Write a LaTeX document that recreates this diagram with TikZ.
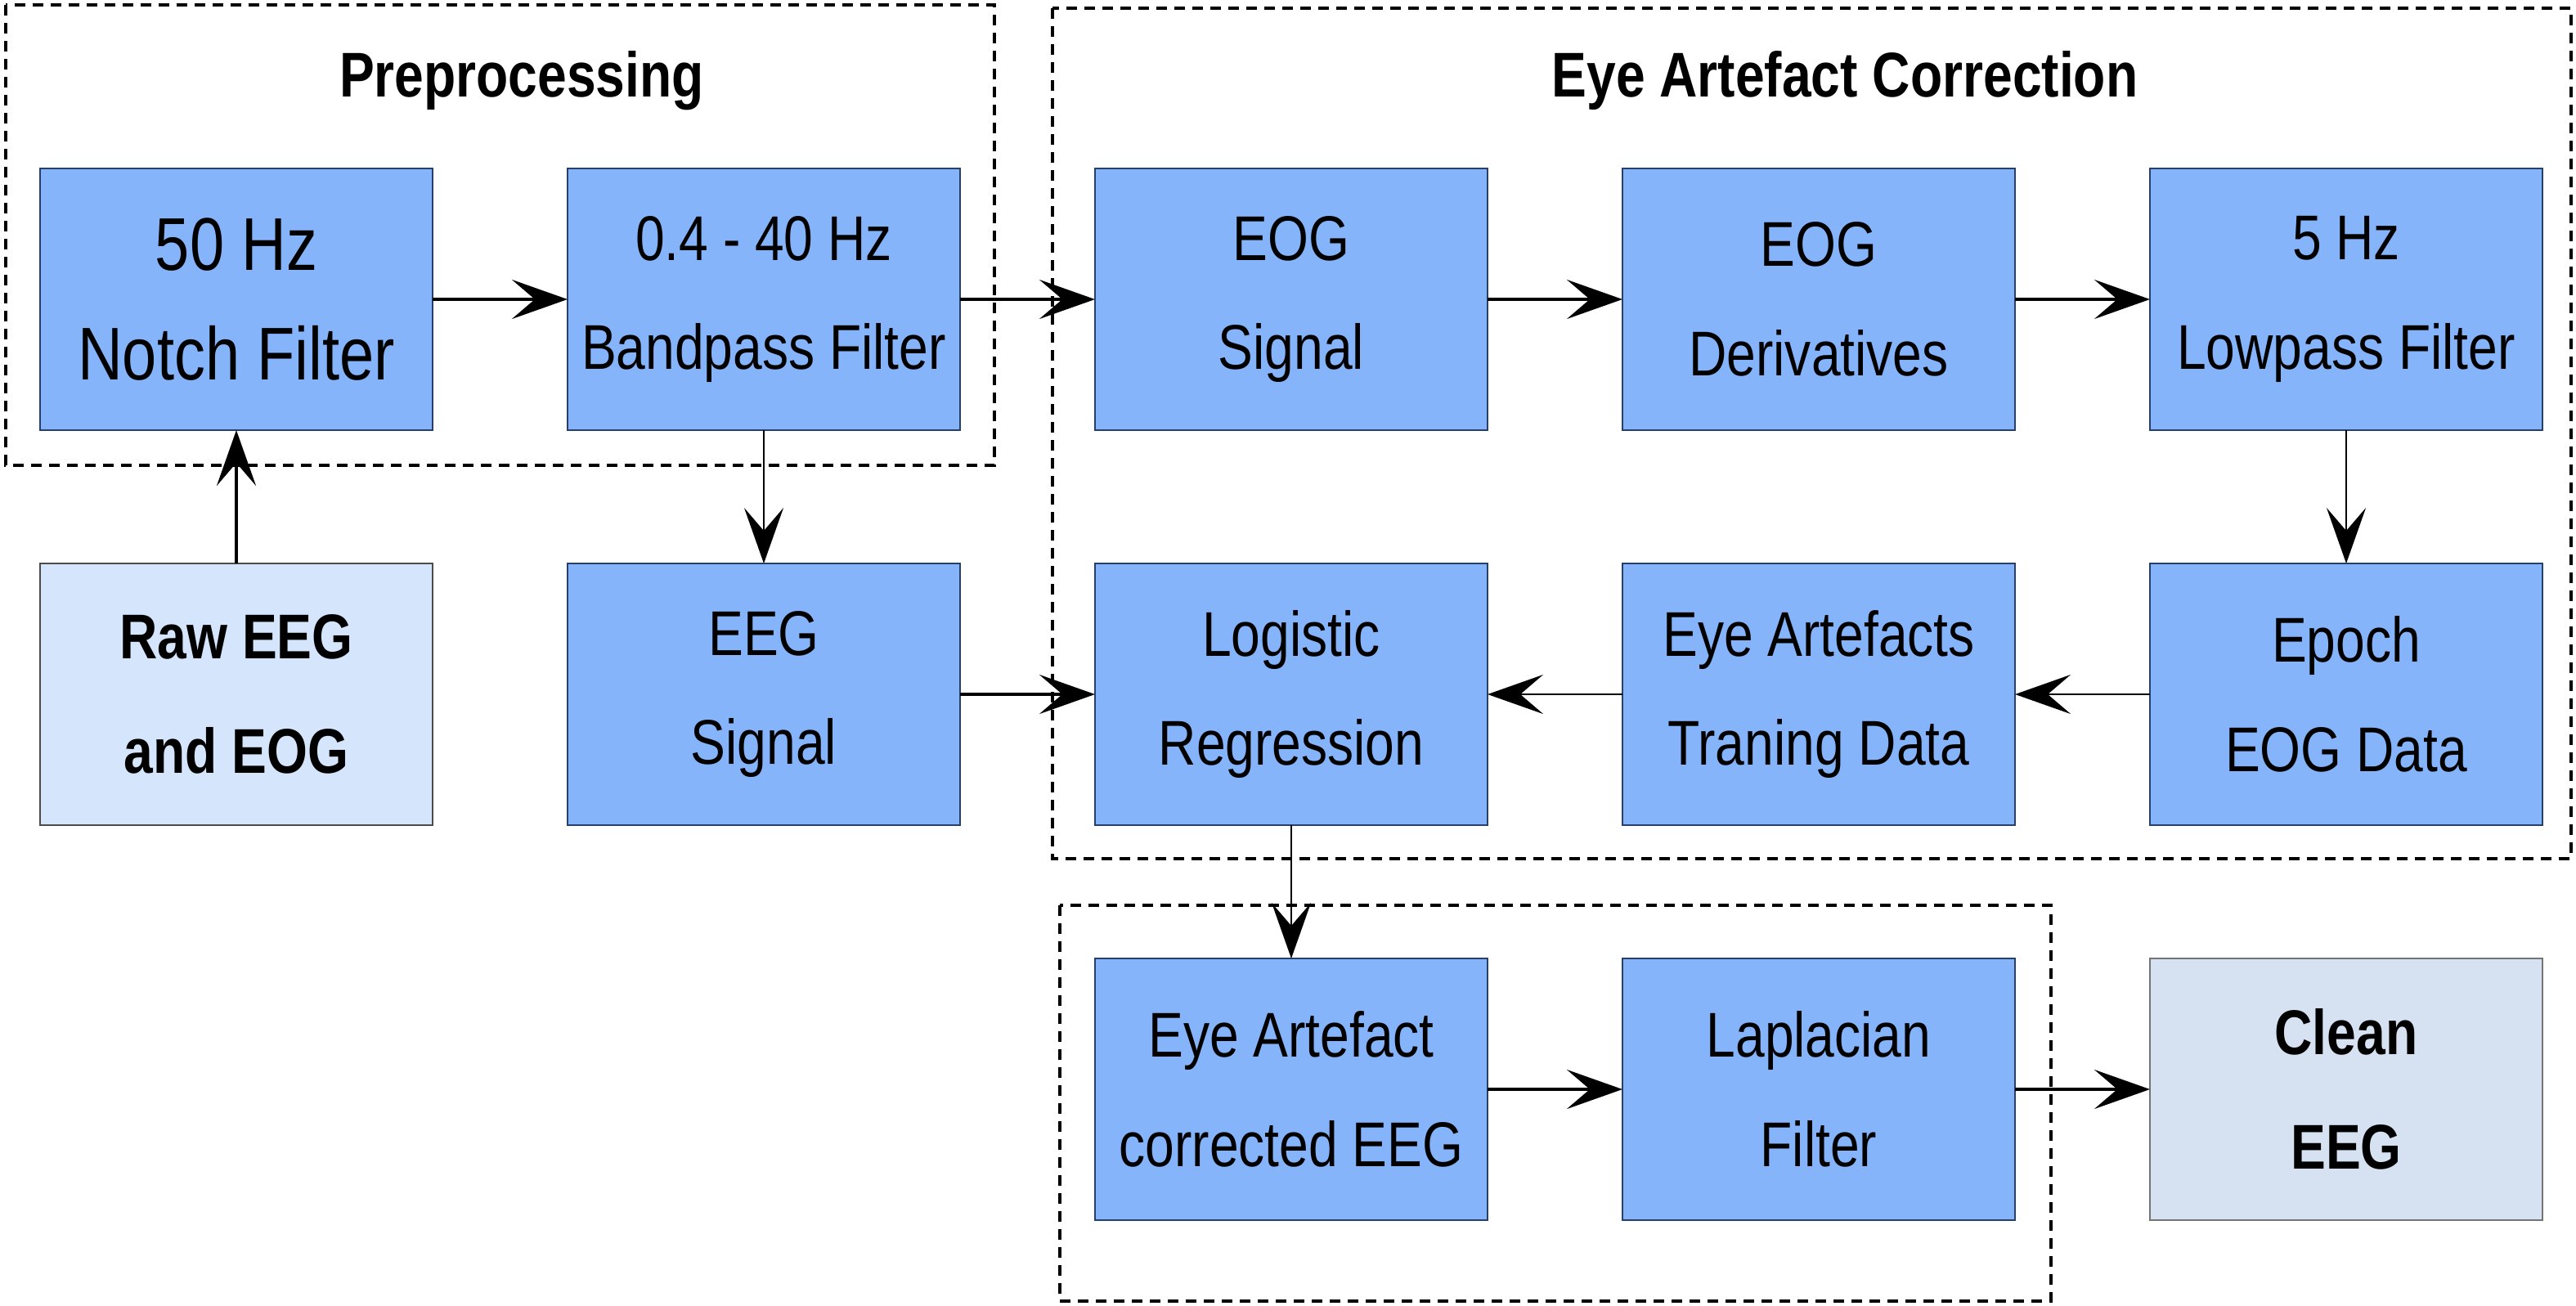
\documentclass[tikz,border=0pt]{standalone}
\usepackage{fontspec}
\usepackage{xcolor}
\usetikzlibrary{arrows.meta, positioning}
\newfontfamily\blkfont[FakeStretch=0.83]{Liberation Sans}
\definecolor{blkfill}{RGB}{134,180,250}
\definecolor{blkline}{RGB}{39,64,107}
\definecolor{rawfill}{RGB}{213,229,251}
\definecolor{cleanfill}{RGB}{214,225,242}

\begin{document}
\begin{tikzpicture}[
    blk/.style={draw=blkline, fill=blkfill, line width=0.8pt, rectangle, minimum width=4.8cm, minimum height=3.2cm,
      inner sep=0pt, outer sep=0pt, align=center, font=\blkfont\fontsize{22}{38}\selectfont},
    inbox/.style={blk, draw=black!70, fill=rawfill, font=\blkfont\bfseries\fontsize{22}{40}\selectfont},
    outbox/.style={blk, draw=black!55, fill=cleanfill, font=\blkfont\bfseries\fontsize{22}{40}\selectfont},
    grouptitle/.style={anchor=base, font=\blkfont\bfseries\fontsize{22}{26}\selectfont},
    groupbox/.style={draw, line width=1.1pt, dash pattern=on 0.13cm off 0.09cm},
    conn/.style={draw, line width=1.2pt, -{Stealth[length=6.8mm, width=4.8mm, inset=2.8mm]}},
    thinconn/.style={conn, line width=0.7pt},
    node distance=1.63cm and 1.65cm
  ]
  \useasboundingbox (0,0) rectangle (31.5,-15.96);

  \node[blk, font=\blkfont\fontsize{26}{38}\selectfont] (notch) at (2.89,-3.66) {50 Hz\\Notch Filter};
  \node[blk, right=of notch] (band) {0.4 - 40 Hz\\Bandpass Filter};
  \node[blk, right=of band] (eog) {EOG\\Signal};
  \node[blk, right=of eog] (deriv) {EOG\\Derivatives};
  \node[blk, right=of deriv] (lowpass) {5 Hz\\Lowpass Filter};

  \node[inbox, below=of notch] (raw) {Raw EEG\\and EOG};
  \node[blk, below=of band] (eeg) {EEG\\Signal};
  \node[blk, below=of eog] (logreg) {Logistic\\Regression};
  \node[blk, below=of deriv] (train) {Eye Artefacts\\Traning Data};
  \node[blk, below=of lowpass] (epoch) {Epoch\\EOG Data};

  \node[blk, below=of logreg] (corr) {Eye Artefact\\corrected EEG};
  \node[blk, below=of train] (lapl) {Laplacian\\Filter};
  \node[outbox, below=of epoch] (clean) {Clean\\EEG};

  \draw[groupbox] (0.07,-0.06) rectangle (12.16,-5.69);
  \draw[groupbox] (12.87,-0.10) rectangle (31.44,-10.50);
  \draw[groupbox] (12.96,-11.07) rectangle (25.08,-15.91);
  \node[grouptitle] (pretitle) at (6.38,-1.18) {Preprocessing};
  \node[grouptitle] (eactitle) at (22.56,-1.18) {Eye Artefact Correction};

  \draw[conn] (raw) -- (notch);
  \draw[conn] (notch) -- (band);
  \draw[conn] (band) -- (eog);
  \draw[thinconn] (band) -- (eeg);
  \draw[conn] (eog) -- (deriv);
  \draw[conn] (deriv) -- (lowpass);
  \draw[thinconn] (lowpass) -- (epoch);
  \draw[thinconn] (epoch) -- (train);
  \draw[thinconn] (train) -- (logreg);
  \draw[conn] (eeg) -- (logreg);
  \draw[thinconn] (logreg) -- (corr);
  \draw[conn] (corr) -- (lapl);
  \draw[conn] (lapl) -- (clean);
\end{tikzpicture}
\end{document}
